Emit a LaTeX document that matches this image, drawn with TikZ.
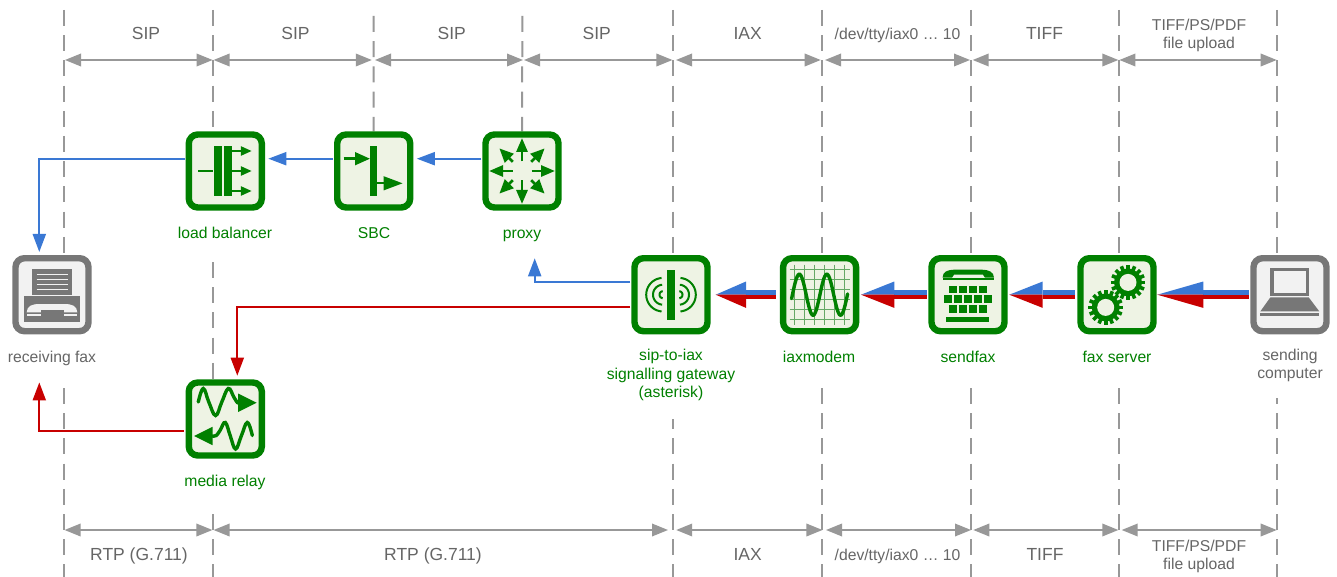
\documentclass[tikz,border=0pt]{standalone}
\usepackage{fontspec}
\setmainfont{Liberation Sans}
\usetikzlibrary{arrows.meta,calc}
\pgfdeclarelayer{backdrop}
\pgfsetlayers{backdrop,main}
\definecolor{cgreen}{HTML}{008000}
\definecolor{cgreenpale}{HTML}{EEF3E4}
\definecolor{cgrid}{HTML}{66A866}
\definecolor{cicon}{HTML}{777777}
\definecolor{cpale}{HTML}{F2F2F2}
\definecolor{cline}{HTML}{989898}
\definecolor{ctext}{HTML}{666666}
\definecolor{cblue}{HTML}{3A78D4}
\definecolor{cred}{HTML}{C80000}
\newcommand{\duplexarrow}[5]{%
  \draw[cblue,line width=4.7pt] ($(#1.west)+(-#3,-2.35)$) -- ($(#2.east)+(#4+#5,-2.35)$);
  \draw[cred,line width=4.7pt] ($(#1.west)+(-#3,2.35)$) -- ($(#2.east)+(#4+#5,2.35)$);
  \fill[cblue] ($(#2.east)+(#4,0)$) -- ++(#5,-13.2) -- ++(0,13.2) -- cycle;
  \fill[cred] ($(#2.east)+(#4,0)$) -- ++(#5,13.2) -- ++(0,-13.2) -- cycle;
}
\newcommand{\gearshape}[2]{%
  \fill[cgreen] (#1,#2) circle[radius=13.8];
  \foreach \a in {0,22.5,...,337.5}
    \draw[cgreen,line width=3.6pt] ({#1+12*cos(\a)},{#2+12*sin(\a)}) -- ({#1+17.4*cos(\a)},{#2+17.4*sin(\a)});
  \fill[cgreenpale] (#1,#2) circle[radius=8.5];
}
\begin{document}
\begin{tikzpicture}[x=1pt,y=-1pt,
  iconbox/.style={rectangle,minimum size=73pt,inner sep=0pt,line width=6.4pt,rounded corners=9pt,draw=cgreen,fill=cgreenpale},
  grayicon/.style={iconbox,draw=cicon,fill=cpale},
  lab/.style={font=\fontsize{15.7}{18.8}\selectfont,text=cgreen,fill=white,align=center,inner xsep=0pt,inner ysep=0pt},
  graylab/.style={lab,text=ctext},
  oneline/.style={text height=11.5pt,text depth=3pt},
  proto/.style={font=\fontsize{17.5}{20}\selectfont,text=ctext,inner sep=0pt,align=center,text height=12.6pt,text depth=3.4pt},
  protosmall/.style={font=\fontsize{15.7}{18.4}\selectfont,text=ctext,inner sep=0pt,align=center},
  boundary/.style={draw=cline,line width=2pt,dash pattern=on 16pt off 9.2pt},
  span/.style={draw=cline,line width=1.5pt,{Triangle[length=16pt,width=12.6pt]}-{Triangle[length=16pt,width=12.6pt]}},
  flowb/.style={draw=cblue,line width=2pt,-{Triangle[length=18pt,width=13pt]}},
  flowr/.style={draw=cred,line width=2pt,-{Triangle[length=18pt,width=13pt]}},
  glyph/.style={draw=cgreen,line width=2.4pt},
  wave/.style={draw=cgreen,line width=3.4pt,line cap=round},
]
\useasboundingbox (0,0) rectangle (1337,577);

% icon nodes
\node[iconbox] (lb)  at (225.3,171) {};
\node[iconbox] (sbc) at (373.7,171) {};
\node[iconbox] (prx) at (522,171) {};
\node[iconbox] (gw)  at (671,294.7) {};
\node[iconbox] (iax) at (819.6,294.7) {};
\node[iconbox] (sf)  at (968,294.7) {};
\node[iconbox] (fs)  at (1117,294.7) {};
\node[grayicon] (pc) at (1290,294.7) {};
\node[grayicon] (rx) at (52,294.7) {};
\node[iconbox] (mr)  at (225.3,419) {};

% boundary coordinates
\coordinate (b1t) at (64,10);    \coordinate (b1b) at (64,577);
\coordinate (b2t) at (212.8,10); \coordinate (b2b) at (212.8,577);
\coordinate (b3t) at (373.6,16);
\coordinate (b4t) at (522.4,16);
\coordinate (b5t) at (673.2,10); \coordinate (b5b) at (673.2,577);
\coordinate (b6t) at (822,10);   \coordinate (b6b) at (822,577);
\coordinate (b7t) at (970.6,10); \coordinate (b7b) at (970.6,577);
\coordinate (b8t) at (1119,10);  \coordinate (b8b) at (1119,577);
\coordinate (b9t) at (1277.3,10);\coordinate (b9b) at (1277.3,577);

\begin{pgfonlayer}{backdrop}
\fill[white] (0,0) rectangle (1337,577);
\draw[boundary] (b1t) -- (b1b);
\draw[boundary] (b2t) -- (b2b);
\draw[boundary] (b3t) -- (sbc.north);
\draw[boundary] (b4t) -- (prx.north);
\draw[boundary] (b5t) -- (b5b);
\draw[boundary] (b6t) -- (b6b);
\draw[boundary] (b7t) -- (b7b);
\draw[boundary] (b8t) -- (b8b);
\draw[boundary] (b9t) -- (b9b);
% white-backed labels, each masking the boundary behind it
\node[lab,oneline,minimum height=50pt] (llb) at (225,234) {load balancer};
\node[lab,oneline,minimum height=50pt] (lsbc) at (374,234) {SBC};
\node[lab,oneline,minimum height=50pt] (lprx) at (522,234) {proxy};
\node[lab,minimum height=87pt] (lgw) at (671,375) {sip-to-iax\\signalling gateway\\(asterisk)};
\node[lab,oneline,minimum height=50pt] (liax) at (819,358) {iaxmodem};
\node[lab,oneline,minimum height=50pt] (lsf) at (968,358) {sendfax};
\node[lab,oneline,minimum height=50pt] (lfs) at (1117,358) {fax server};
\node[graylab,minimum height=64pt] (lpc) at (1290,365.5) {sending\\computer};
\node[graylab,oneline,minimum height=50pt] (lrx) at (52,358) {receiving fax};
\node[lab,oneline,minimum height=50pt] (lmr) at (225,482) {media relay};
\end{pgfonlayer}

% protocol labels, top
\node[proto] (t1) at (146,35) {SIP};
\node[proto] (t2) at (295.5,35) {SIP};
\node[proto] (t3) at (451.7,35) {SIP};
\node[proto] (t4) at (596.7,35) {SIP};
\node[proto] (t5) at (747.7,35) {IAX};
\node[protosmall,text height=11.5pt,text depth=3.3pt] (t6) at (897.5,35.3) {/dev/tty/iax0 … 10};
\node[proto] (t7) at (1044.5,35) {TIFF};
\node[protosmall] (t8) at (1199,35.7) {TIFF/PS/PDF\\file upload};
% protocol labels, bottom
\node[proto] (u1) at (139,556) {RTP (G.711)};
\node[proto] (u2) at (433,556) {RTP (G.711)};
\node[proto] (u3) at (747.7,556) {IAX};
\node[protosmall,text height=11.5pt,text depth=3.3pt] (u4) at (897.5,556.3) {/dev/tty/iax0 … 10};
\node[proto] (u5) at (1045,556) {TIFF};
\node[protosmall] (u6) at (1199,556.3) {TIFF/PS/PDF\\file upload};

% span arrows, top
\coordinate (ta0) at (65,60);     \coordinate (tb0) at (212.6,60);
\coordinate (ta1) at (213.6,60);  \coordinate (tb1) at (371.8,60);
\coordinate (ta2) at (375,60);    \coordinate (tb2) at (523,60);
\coordinate (ta3) at (524,60);    \coordinate (tb3) at (672.4,60);
\coordinate (ta4) at (676,60);    \coordinate (tb4) at (820.7,60);
\coordinate (ta5) at (825,60);    \coordinate (tb5) at (970,60);
\coordinate (ta6) at (972.7,60);  \coordinate (tb6) at (1118.3,60);
\coordinate (ta7) at (1119.4,60); \coordinate (tb7) at (1276.7,60);
\draw[span] (ta0) -- (tb0);
\draw[span] (ta1) -- (tb1);
\draw[span] (ta2) -- (tb2);
\draw[span] (ta3) -- (tb3);
\draw[span] (ta4) -- (tb4);
\draw[span] (ta5) -- (tb5);
\draw[span] (ta6) -- (tb6);
\draw[span] (ta7) -- (tb7);
% span arrows, bottom
\coordinate (ua0) at (64.6,530);  \coordinate (ub0) at (212.4,530);
\coordinate (ua1) at (213.6,530); \coordinate (ub1) at (668,530);
\coordinate (ua2) at (676.2,530); \coordinate (ub2) at (822.4,530);
\coordinate (ua3) at (826,530);   \coordinate (ub3) at (971,530);
\coordinate (ua4) at (973.3,530); \coordinate (ub4) at (1118.3,530);
\coordinate (ua5) at (1121.7,530);\coordinate (ub5) at (1276.7,530);
\draw[span] (ua0) -- (ub0);
\draw[span] (ua1) -- (ub1);
\draw[span] (ua2) -- (ub2);
\draw[span] (ua3) -- (ub3);
\draw[span] (ua4) -- (ub4);
\draw[span] (ua5) -- (ub5);

% flows
\draw[flowb] ($(prx.west)+(-1.3,-12.3)$) -- ($(sbc.east)+(3.4,-12.3)$);
\draw[flowb] ($(sbc.west)+(-1,-12.3)$) -- ($(lb.east)+(3.3,-12.3)$);
\draw[flowb] ($(lb.west)+(-1,-12.3)$) -| ($(rx.north)+(-12.7,-3)$);
\draw[flowb] ($(gw.west)+(-1.3,-12.7)$) -| ($(prx.south)+(12.7,47.6)$);
\draw[flowr] ($(gw.west)+(-1.3,12.6)$) -| ($(mr.north)+(12,-3.6)$);
\draw[flowr] ($(mr.west)+(-1.7,12)$) -| ($(rx.south)+(-12.7,48)$);
\duplexarrow{iax}{gw}{4}{5}{30.3}
\duplexarrow{sf}{iax}{1.6}{1.7}{33.3}
\duplexarrow{fs}{sf}{2.3}{1.6}{33.4}
\duplexarrow{pc}{fs}{1.7}{0.6}{46}

% glyph: load balancer
\begin{scope}[shift={(lb)}]
  \fill[cgreen] (-11,-25) rectangle (-3.7,25);
  \fill[cgreen] (-1,-25) rectangle (6.3,25);
  \draw[glyph] (-27,0) -- (-12,0);
  \foreach \yy in {-20,0,20}
    \draw[glyph,-{Triangle[length=11pt,width=9pt]}] (7,\yy) -- (26.5,\yy);
\end{scope}
% glyph: SBC
\begin{scope}[shift={(sbc)}]
  \fill[cgreen] (-3.7,-25) rectangle (3.7,25);
  \draw[glyph,-{Triangle[length=15pt,width=12.7pt]}] (-30,-12.3) -- (-3.7,-12.3);
  \draw[glyph,-{Triangle[length=19pt,width=13.5pt]}] (3.7,12.3) -- (29,12.3);
\end{scope}
% glyph: proxy
\begin{scope}[shift={(prx)}]
  \foreach \a in {0,90,180,270}
    \draw[glyph,line width=2.8pt,-{Triangle[length=14pt,width=11pt]}] ({9.5*cos(\a)},{9.5*sin(\a)}) -- ({33*cos(\a)},{33*sin(\a)});
  \foreach \a in {45,135,225,315}
    \draw[glyph,line width=2.8pt,-{Triangle[length=14pt,width=12pt]}] ({13*cos(\a)},{13*sin(\a)}) -- ({32*cos(\a)},{32*sin(\a)});
\end{scope}
% glyph: gateway
\begin{scope}[shift={(gw)}]
  \foreach \r in {16.8,10,3.5}{
    \draw[glyph,line width=2pt] plot[domain=95:265,samples=21,smooth] ({-8+\r*cos(\x)},{\r*sin(\x)});
    \draw[glyph,line width=2pt] plot[domain=95:265,samples=21,smooth] ({8-\r*cos(\x)},{\r*sin(\x)});
  }
  \fill[cgreen] (-3.6,-25) rectangle (3.6,25);
\end{scope}
% glyph: iaxmodem
\begin{scope}[shift={(iax)}]
  \foreach \v in {-25,-15,-5,5,15,25}{
    \draw[cgrid,line width=1pt] (\v,-30) -- (\v,30);
    \draw[cgrid,line width=1pt] (-30,\v) -- (30,\v);
  }
  \draw[wave] plot[domain=-28:28,samples=70,smooth] (\x,{-20.5*cos((\x+20.3)*13.09)});
\end{scope}
% glyph: sendfax
\begin{scope}[shift={(sf)}]
  \fill[cgreen] (-25.5,-17) .. controls (-25.5,-23) and (-20,-25) .. (-14,-25) -- (14,-25)
     .. controls (20,-25) and (26,-23) .. (26,-17) -- (17,-17) -- (15,-20) -- (-14,-20) -- (-16,-17) -- cycle;
  \fill[cgreen] (-25.5,-16.3) rectangle (26,-14.3);
  \foreach \v in {-19,-9,1,11}{
    \fill[cgreen] (\v,-9) rectangle ++(7.6,7.3);
    \fill[cgreen] (\v,10.7) rectangle ++(7.6,7.3);
  }
  \foreach \v in {-24,-14,-4,6,16}
    \fill[cgreen] (\v,0.7) rectangle ++(7.6,7.6);
  \fill[cgreen] (-22,22.7) rectangle (21,27.7);
\end{scope}
% glyph: fax server
\begin{scope}[shift={(fs)}]
  \gearshape{11}{-12.3}
  \gearshape{-11.3}{12.7}
\end{scope}
% glyph: sending computer
\begin{scope}[shift={(pc)}]
  \draw[cicon,line width=3.5pt] (-18,-25) rectangle (17.6,0);
  \fill[cicon] (-19.7,2.7) -- (18.7,2.7) -- (29.3,16.7) -- (-29.7,16.7) -- cycle;
  \fill[cicon] (-29.7,18.3) rectangle (29.3,21.7);
\end{scope}
% glyph: receiving fax
\begin{scope}[shift={(rx)}]
  \fill[cicon] (-20.3,-25.7) rectangle (20.3,0);
  \foreach \yy in {-20,-15,-10,-5}
    \draw[cpale,line width=1pt] (-15.3,\yy) -- (15.7,\yy);
  \fill[cicon] (-28,1.7) rectangle (28,27.7);
  \fill[cpale] (-25.3,17.6) .. controls (-25,11) and (-20,9.3) .. (-12,9.3) -- (12,9.3)
     .. controls (20,9.3) and (25,11) .. (25.3,17.6) -- cycle;
  \fill[cicon] (-11,15.7) rectangle (11.7,27.7);
  \fill[cpale] (-25.3,19) rectangle (-11,21.3);
  \fill[cpale] (11.7,19) rectangle (25.3,21.3);
\end{scope}
% glyph: media relay
\begin{scope}[shift={(mr)}]
  \draw[wave] plot[smooth,tension=.7] coordinates {(-27,-17) (-22,-30.5) (-16.5,-17) (-9.7,-3.5) (-3.5,-17) (3,-30.5) (8.5,-22) (12,-16.5) (14,-16)};
  \fill[cgreen] (31.3,-16.3) -- (12.7,-25.5) -- (12.7,-7) -- cycle;
  \draw[wave] plot[smooth,tension=.7] coordinates {(-13,17) (-9,16.5) (-5,11) (0,3.5) (5,17) (10.3,30) (16,17) (22,3.5) (27,16.5)};
  \fill[cgreen] (-31.3,17) -- (-12.7,7.8) -- (-12.7,26.2) -- cycle;
\end{scope}
\end{tikzpicture}
\end{document}
